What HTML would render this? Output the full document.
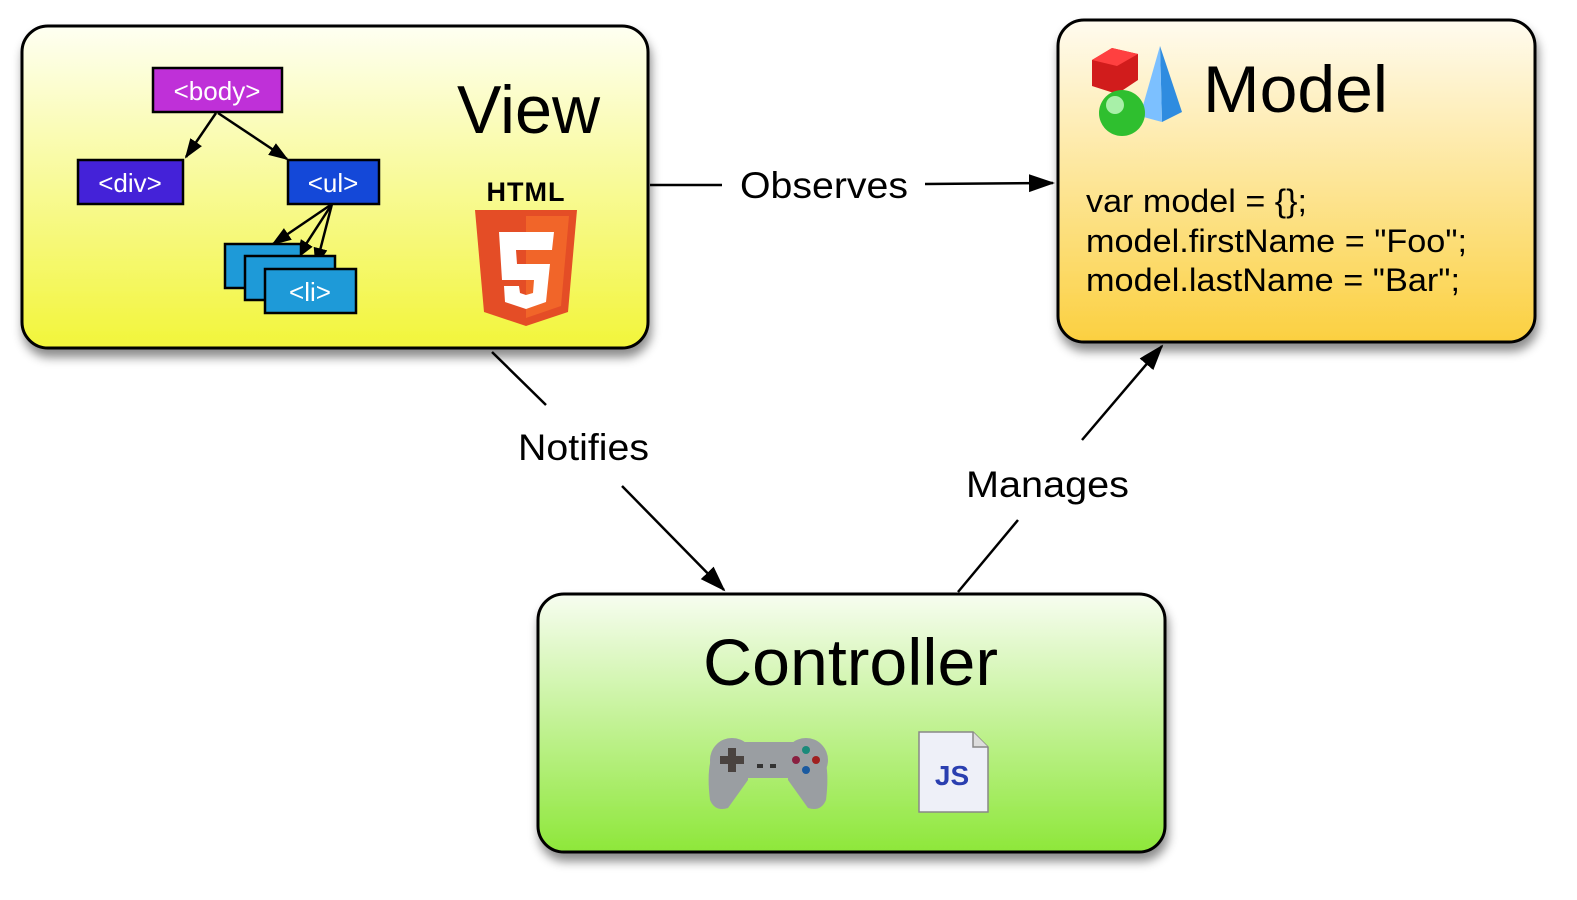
<!DOCTYPE html>
<html><head><meta charset="utf-8"><style>
html,body{margin:0;padding:0;background:#fff;}
svg{display:block;font-family:"Liberation Sans",sans-serif;}
</style></head><body>
<svg width="1577" height="900" viewBox="0 0 1577 900">
<defs>
<linearGradient id="gv" x1="0" y1="0" x2="0" y2="1"><stop offset="0" stop-color="#fefff2"/><stop offset="1" stop-color="#f2f53a"/></linearGradient>
<linearGradient id="gm" x1="0" y1="0" x2="0" y2="1"><stop offset="0" stop-color="#fffbef"/><stop offset="1" stop-color="#fbd040"/></linearGradient>
<linearGradient id="gc" x1="0" y1="0" x2="0" y2="1"><stop offset="0" stop-color="#f7fdf0"/><stop offset="1" stop-color="#8ee73a"/></linearGradient>
<filter id="sh" x="-5%" y="-5%" width="115%" height="125%"><feDropShadow dx="2" dy="8" stdDeviation="5" flood-color="#000" flood-opacity="0.45"/></filter>
<marker id="as" markerWidth="26" markerHeight="20" refX="24" refY="10" orient="auto" markerUnits="userSpaceOnUse" viewBox="0 0 26 20"><path d="M0,1 L26,10 L0,19 z" fill="#000"/></marker>
<marker id="at" markerWidth="20" markerHeight="16" refX="18" refY="8" orient="auto" markerUnits="userSpaceOnUse" viewBox="0 0 20 16"><path d="M0,1 L20,8 L0,15 z" fill="#000"/></marker>
</defs>

<rect x="22" y="26" width="626" height="322" rx="26" fill="url(#gv)" stroke="#000" stroke-width="3" filter="url(#sh)"/>
<rect x="1058" y="20" width="477" height="322" rx="26" fill="url(#gm)" stroke="#000" stroke-width="3" filter="url(#sh)"/>
<rect x="538" y="594" width="627" height="258" rx="26" fill="url(#gc)" stroke="#000" stroke-width="3" filter="url(#sh)"/>

<g stroke="#000" stroke-width="2.5" fill="none">
<line x1="650" y1="185" x2="722" y2="185"/>
<line x1="925" y1="184" x2="1053" y2="183" marker-end="url(#as)"/>
<line x1="492" y1="352" x2="546" y2="405"/>
<line x1="622" y1="486" x2="724" y2="590" marker-end="url(#as)"/>
<line x1="958" y1="592" x2="1018" y2="520"/>
<line x1="1082" y1="440" x2="1162" y2="346" marker-end="url(#as)"/>
</g>
<text x="740" y="198" font-size="37" textLength="168" lengthAdjust="spacingAndGlyphs">Observes</text>
<text x="518" y="460" font-size="37" textLength="131" lengthAdjust="spacingAndGlyphs">Notifies</text>
<text x="966" y="497" font-size="37" textLength="163" lengthAdjust="spacingAndGlyphs">Manages</text>

<text x="457" y="133" font-size="68" textLength="143" lengthAdjust="spacingAndGlyphs">View</text>
<g stroke="#000" stroke-width="2.5">
<line x1="216" y1="113" x2="186" y2="157" marker-end="url(#at)"/>
<line x1="218" y1="113" x2="287" y2="159" marker-end="url(#at)"/>
<line x1="332" y1="204" x2="273" y2="244" marker-end="url(#at)"/>
<line x1="332" y1="204" x2="297" y2="258" marker-end="url(#at)"/>
<line x1="332" y1="204" x2="316" y2="266" marker-end="url(#at)"/>
</g>
<rect x="153" y="68" width="129" height="44" fill="#bf30d8" stroke="#000" stroke-width="2.5"/>
<text x="217" y="100" font-size="26" fill="#fff" text-anchor="middle">&lt;body&gt;</text>
<rect x="78" y="160" width="105" height="44" fill="#4422d8" stroke="#000" stroke-width="2.5"/>
<text x="130" y="192" font-size="26" fill="#fff" text-anchor="middle">&lt;div&gt;</text>
<rect x="288" y="160" width="91" height="44" fill="#1448d8" stroke="#000" stroke-width="2.5"/>
<text x="333" y="192" font-size="26" fill="#fff" text-anchor="middle">&lt;ul&gt;</text>
<rect x="225" y="244" width="76" height="44" fill="#1e9ad8" stroke="#000" stroke-width="2.5"/>
<rect x="245" y="256" width="90" height="44" fill="#1e9ad8" stroke="#000" stroke-width="2.5"/>
<rect x="265" y="269" width="91" height="44" fill="#1e9ad8" stroke="#000" stroke-width="2.5"/>
<text x="310" y="301" font-size="26" fill="#fff" text-anchor="middle">&lt;li&gt;</text>
<text x="526" y="201" font-size="27" font-weight="bold" text-anchor="middle" letter-spacing="1">HTML</text>
<path d="M475,210 L577,210 L568,312 L526,326 L484,312 Z" fill="#e44d26"/>
<path d="M526,216 L569,216 L561,306 L526,318 Z" fill="#f16529"/>
<path d="M499,232 L554,232 L552,250 L516,250 L517,264 L550,264 L546,302 L526,309 L505,302 L504,286 L519,286 L520,293 L526,295 L533,293 L534,280 L502,280 Z" fill="#fff"/>

<path d="M1092,60 L1112,48 L1138,54 L1138,80 L1117,94 L1092,86 Z" fill="#d11c1c"/>
<path d="M1112,48 L1138,54 L1117,66 L1092,60 Z" fill="#ff4040"/>
<path d="M1160,46 L1182,112 L1162,122 Z" fill="#2f8ce0"/>
<path d="M1160,46 L1140,116 L1162,122 Z" fill="#7cc0ff"/>
<circle cx="1122" cy="113" r="23" fill="#2fbf2f"/>
<circle cx="1115" cy="105" r="9" fill="#a8f0a8"/>
<text x="1203" y="112" font-size="66" textLength="185" lengthAdjust="spacingAndGlyphs">Model</text>
<text x="1086" y="212" font-size="32" textLength="221" lengthAdjust="spacingAndGlyphs">var model = {};</text>
<text x="1086" y="252" font-size="32" textLength="381" lengthAdjust="spacingAndGlyphs">model.firstName = "Foo";</text>
<text x="1086" y="291" font-size="32" textLength="374" lengthAdjust="spacingAndGlyphs">model.lastName = "Bar";</text>

<text x="703" y="685" font-size="66" textLength="295" lengthAdjust="spacingAndGlyphs">Controller</text>
<g fill="#9a9ea2">
<rect x="732" y="742" width="72" height="36" rx="10"/>
<path d="M718,745 Q705,760 710,800 Q715,812 728,808 L748,780 L748,745 Z"/>
<path d="M818,745 Q831,760 826,800 Q821,812 808,808 L788,780 L788,745 Z"/>
<circle cx="732" cy="760" r="22"/><circle cx="806" cy="760" r="22"/>
</g>
<g fill="#4a4340"><rect x="728" y="748" width="8" height="24"/><rect x="720" y="756" width="24" height="8"/></g>
<rect x="757" y="764" width="6" height="4" fill="#333"/><rect x="770" y="764" width="6" height="4" fill="#333"/>
<circle cx="806" cy="750" r="4" fill="#1a8a7a"/><circle cx="796" cy="760" r="4" fill="#8a2040"/><circle cx="816" cy="760" r="4" fill="#a02020"/><circle cx="806" cy="770" r="4" fill="#1a5aa0"/>
<path d="M919,732 L973,732 L988,747 L988,812 L919,812 Z" fill="#eef0f8" stroke="#888" stroke-width="1.5"/>
<path d="M973,732 L973,747 L988,747" fill="#ddd" stroke="#888" stroke-width="1.5"/>
<text x="952" y="785" font-size="28" font-weight="bold" fill="#2a3fb0" text-anchor="middle">JS</text>
</svg>
</body></html>
